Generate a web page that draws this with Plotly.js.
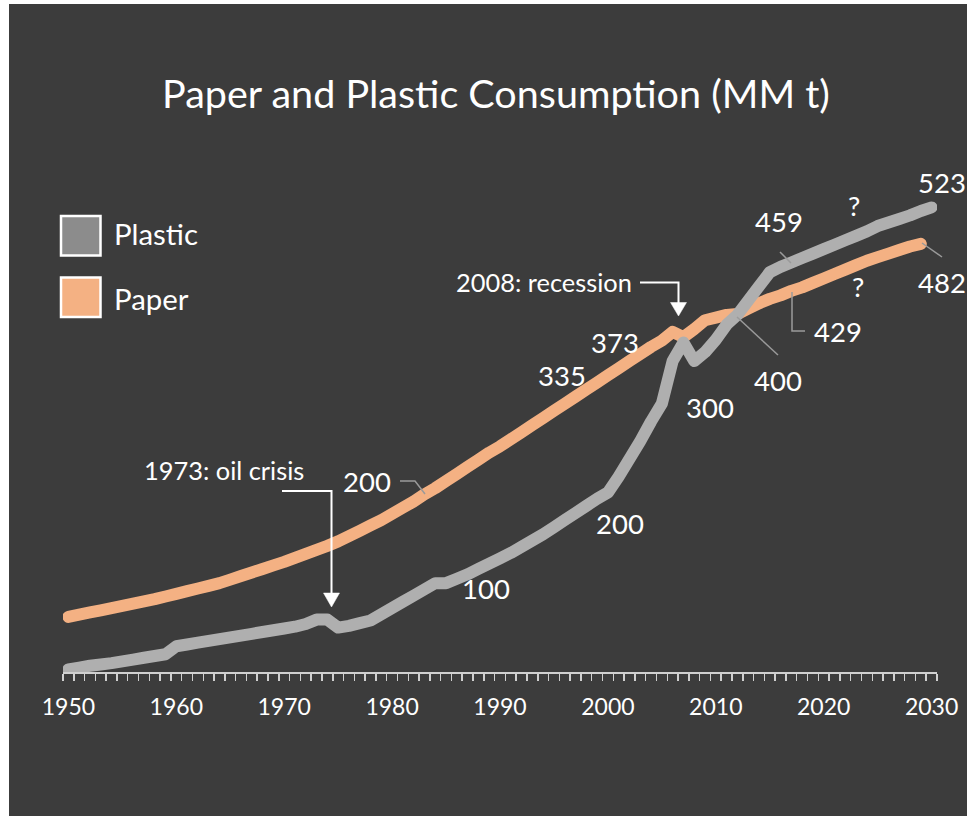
<!DOCTYPE html>
<html>
<head>
<meta charset="utf-8">
<script src="https://cdn.plot.ly/plotly-3.0.1.min.js"></script>
<style>
  html, body { margin: 0; padding: 0; background: #ffffff; }
  #chart { position: absolute; left: 9px; top: 4px; width: 958px; height: 812px; }
  .scatterlayer .js-line { stroke-linecap: round !important; stroke-linejoin: round !important; }
</style>
</head>
<body>
<div id="chart"></div>
<script>
// ---------- data ----------
const plasticYears = Array.from({length: 81}, (_, i) => 1950 + i);   // 1950..2030
const paperYears   = Array.from({length: 80}, (_, i) => 1950 + i);   // 1950..2029

const plastic = [
  3, 5, 7, 8.5, 10, 12, 14, 16, 18, 20,
  29, 31, 33, 35, 37, 39, 41, 43, 45, 47,
  49, 51, 54, 59, 59, 50, 52, 55, 58, 65,
  72, 79, 86, 93, 100, 100, 105, 110, 116, 122,
  128, 134, 141, 148, 155, 163, 171, 179, 187, 195,
  202, 220, 240, 260, 282, 302, 350, 371, 350, 360,
  374, 391, 402, 418, 434, 450, 456, 461, 466, 471,
  476, 481, 486, 491, 496, 502, 506, 510, 514, 519,
  523
];

const paper = [
  62, 64.5, 67, 69.5, 72, 74.5, 77, 79.5, 82, 85,
  88, 91, 94, 97, 100, 104, 108, 112, 116, 120,
  124, 128.5, 133, 137.5, 142, 147, 153, 159, 165, 171,
  178, 185, 192, 200, 207, 215, 223, 231, 239, 247,
  254, 262, 270, 278, 286, 294, 302, 310, 318, 326,
  334, 342, 350, 358, 366, 373, 383, 377, 386, 396,
  399, 402, 403, 409, 415, 420, 424, 429, 433, 438,
  443, 448, 453, 458, 463, 467, 471, 475, 479, 482
];

const tickYears  = [1950, 1960, 1970, 1980, 1990, 2000, 2010, 2020, 2030];
const tickLabels = ['1950', '1960', '1970', '1980', '1990', '2000', '2010', '2020', '2030'];

const seriesNames = ['Plastic', 'Paper'];
const titleText = 'Paper and Plastic Consumption (MM t)';

// data labels: [text, pageX, pageY]
const dataLabels = [
  ['523', 942, 182], ['?', 854, 205], ['459', 779, 222], ['?', 858, 286],
  ['482', 942, 282], ['429', 838, 331], ['400', 778, 380], ['300', 710, 407],
  ['200', 620, 523], ['100', 486, 588], ['200', 367, 482], ['335', 562, 375],
  ['373', 615, 342]
];
const eventLabels = [
  ['1973: oil crisis', 224, 470],
  ['2008: recession', 544, 282]
];

// ---------- geometry helpers (page px -> paper fraction) ----------
const OFFX = 9, OFFY = 4, W = 958, H = 812;
const PL = 63, PR = 937, PB = 672, PT = 139;
const fx = px => (px - PL) / (PR - PL);
const fy = py => (PB - py) / (PB - PT);
const P = (px, py) => fx(px) + ',' + fy(py);

const GRAY = '#afafaf', ORANGE = '#f4b183', BG = '#3c3c3c', WHITE = '#ffffff', LEADER = '#9a9a9a';
const FONT = 'Lato, "Open Sans", sans-serif';

const traces = [
  { x: paperYears, y: paper, name: seriesNames[1], type: 'scatter', mode: 'lines',
    line: { color: ORANGE, width: 12, simplify: false }, hoverinfo: 'x+y', cliponaxis: false },
  { x: plasticYears, y: plastic, name: seriesNames[0], type: 'scatter', mode: 'lines',
    line: { color: GRAY, width: 12, simplify: false }, hoverinfo: 'x+y', cliponaxis: false }
];

const shapes = [];
function poly(pts, color, width) {
  let d = 'M' + P(pts[0][0], pts[0][1]);
  for (let i = 1; i < pts.length; i++) d += ' L' + P(pts[i][0], pts[i][1]);
  shapes.push({ type: 'path', xref: 'paper', yref: 'paper', path: d,
    line: { color: color, width: width } });
}
function tri(pts, color) {
  let d = 'M' + P(pts[0][0], pts[0][1]) + ' L' + P(pts[1][0], pts[1][1]) + ' L' + P(pts[2][0], pts[2][1]) + ' Z';
  shapes.push({ type: 'path', xref: 'paper', yref: 'paper', path: d,
    fillcolor: color, line: { color: color, width: 0.5 } });
}
function rect(x0, y0, x1, y1, fill) {
  shapes.push({ type: 'rect', xref: 'paper', yref: 'paper',
    x0: fx(x0), x1: fx(x1), y0: fy(y1), y1: fy(y0),
    fillcolor: fill, line: { color: WHITE, width: 2.5 } });
}

// legend boxes
rect(61, 216, 100.5, 255.5, '#8c8c8c');
rect(61, 277.5, 100.5, 317, ORANGE);

// leader lines
poly([[400, 481], [415, 481], [425, 494]], LEADER, 1.5);
poly([[778, 355], [737, 317]], LEADER, 1.5);
poly([[805, 331], [792, 331], [792, 292]], LEADER, 1.5);
poly([[780, 252], [791, 263]], LEADER, 1.5);
poly([[922, 243], [942, 257]], LEADER, 1.5);

// event arrows
poly([[282, 491], [331.5, 491], [331.5, 595]], WHITE, 2);
tri([[323.5, 593], [339.5, 593], [331.5, 607]], WHITE);
poly([[640, 282.5], [678.5, 282.5], [678.5, 304]], WHITE, 2);
tri([[670.5, 302.5], [686.5, 302.5], [678.5, 316]], WHITE);

const annotations = [];
dataLabels.forEach(([t, x, y]) => annotations.push({
  text: t, xref: 'paper', yref: 'paper', x: fx(x), y: fy(y),
  xanchor: 'center', yanchor: 'middle', showarrow: false,
  font: { family: FONT, size: 27.5, color: WHITE }
}));
eventLabels.forEach(([t, x, y]) => annotations.push({
  text: t, xref: 'paper', yref: 'paper', x: fx(x), y: fy(y),
  xanchor: 'center', yanchor: 'middle', showarrow: false,
  font: { family: FONT, size: 25.4, color: WHITE }
}));
// legend texts
annotations.push({ text: seriesNames[0], xref: 'paper', yref: 'paper', x: fx(112), y: fy(233),
  xanchor: 'left', yanchor: 'middle', showarrow: false, font: { family: FONT, size: 29.4, color: WHITE } });
annotations.push({ text: seriesNames[1], xref: 'paper', yref: 'paper', x: fx(112), y: fy(298),
  xanchor: 'left', yanchor: 'middle', showarrow: false, font: { family: FONT, size: 29.4, color: WHITE } });

const layout = {
  width: W, height: H,
  paper_bgcolor: BG, plot_bgcolor: 'rgba(0,0,0,0)',
  margin: { l: PL - OFFX, r: W - (PR - OFFX), t: PT - OFFY, b: H - (PB - OFFY), pad: 0 },
  showlegend: false,
  title: { text: titleText, x: (496 - OFFX) / W, xanchor: 'center', xref: 'container',
    y: 1 - (94 - OFFY) / H, yanchor: 'middle', yref: 'container',
    font: { family: FONT, size: 39.5, color: WHITE } },
  xaxis: {
    range: [1949.5, 2030.5], tickmode: 'array', tickvals: tickYears, ticktext: tickLabels,
    ticks: 'outside', ticklen: 7, tickcolor: 'rgba(0,0,0,0)', ticklabelstandoff: 7,
    showline: true, linecolor: '#d0d0d0', linewidth: 1.5, showgrid: false, zeroline: false,
    tickfont: { family: FONT, size: 23, color: WHITE },
    minor: { tickmode: 'linear', tick0: 1949.5, dtick: 1, ticks: 'outside', ticklen: 7,
      tickwidth: 1.5, tickcolor: '#d0d0d0', showgrid: false },
    fixedrange: true
  },
  yaxis: { range: [0, 600], visible: false, showgrid: false, zeroline: false, fixedrange: true },
  shapes: shapes,
  annotations: annotations
};

Plotly.newPlot('chart', traces, layout, { displayModeBar: false, staticPlot: true });
</script>
</body>
</html>
